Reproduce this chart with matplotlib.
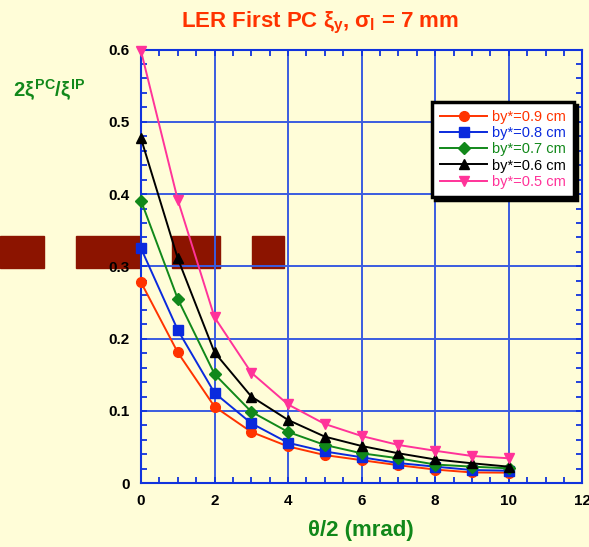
"""LER first PC beam-beam ratio vs half crossing angle"""

import matplotlib
matplotlib.use("Agg")
import matplotlib.pyplot as plt
from matplotlib.patches import Rectangle
from matplotlib.ticker import MultipleLocator

plt.rcParams['font.family'] = ['Liberation Sans', 'DejaVu Sans']
plt.rcParams['mathtext.fontset'] = 'custom'
plt.rcParams['mathtext.rm'] = 'Liberation Sans:bold'
plt.rcParams['mathtext.it'] = 'Liberation Sans:bold'
plt.rcParams['mathtext.bf'] = 'Liberation Sans:bold'

# half crossing angle (mrad)
theta_half = [0, 1, 2, 3, 4, 5, 6, 7, 8, 9, 10]

# 2 xi_PC / xi_IP for each beta_y*
by_09 = [0.278, 0.181, 0.106, 0.071, 0.051, 0.039, 0.032, 0.025, 0.019, 0.015, 0.0147]
by_08 = [0.325, 0.212, 0.125, 0.083, 0.056, 0.044, 0.036, 0.028, 0.023, 0.0184, 0.0174]
by_07 = [0.391, 0.255, 0.151, 0.099, 0.071, 0.053, 0.0415, 0.0346, 0.026, 0.023, 0.0207]
by_06 = [0.477, 0.311, 0.181, 0.120, 0.0876, 0.0645, 0.0516, 0.0415, 0.033, 0.0277, 0.023]
by_05 = [0.598, 0.392, 0.2296, 0.153, 0.109, 0.082, 0.0654, 0.053, 0.045, 0.0378, 0.0346]

series = [
    (by_09, 'by*=0.9 cm', '#FF3300', 'o', 7),
    (by_08, 'by*=0.8 cm', '#0A2ADD', 's', 7),
    (by_07, 'by*=0.7 cm', '#11881A', 'D', 6),
    (by_06, 'by*=0.6 cm', 'black', '^', 7.5),
    (by_05, 'by*=0.5 cm', '#FF3399', 'v', 7.5),
]

bg = '#FFFDD8'
blue = '#1133DD'

fig = plt.figure(figsize=(5.89, 5.47), dpi=100, facecolor=bg)
W, H = 589, 547
ax = fig.add_axes([141 / W, 1 - 483.3 / H, (582.3 - 141) / W, (483.3 - 49.5) / H])
ax.set_facecolor(bg)

for vals, label, col, mk, ms in series:
    ax.plot(theta_half, vals, color=col, marker=mk, markersize=ms, lw=1.4,
            label=label, clip_on=False, zorder=3)

ax.set_xlim(0, 12)
ax.set_ylim(0, 0.6)
ax.xaxis.set_major_locator(MultipleLocator(2))
ax.xaxis.set_minor_locator(MultipleLocator(0.5))
ax.yaxis.set_minor_locator(MultipleLocator(0.02))
ax.set_yticks([0, 0.1, 0.2, 0.3, 0.4, 0.5, 0.6])
ax.set_yticklabels(['0', '0.1', '0.2', '0.3', '0.4', '0.5', '0.6'])
ax.grid(True, which='major', color='#3A5CE0', lw=1.4)
ax.set_axisbelow(True)

for s in ax.spines.values():
    s.set_color(blue)
    s.set_linewidth(1.5)
    s.set_zorder(2.6)
ax.tick_params(which='both', direction='in', top=True, right=True, color=blue, width=1.3)
ax.tick_params(which='major', length=4, labelsize=11, pad=8)
ax.tick_params(which='minor', length=4)
for lb in ax.get_xticklabels() + ax.get_yticklabels():
    lb.set_fontweight('bold')

# dark red blocks lying across the plot (under grid and tick labels)
for x0, x1 in [(0, 44), (76, 140), (172, 220), (252, 284)]:
    ax.add_patch(Rectangle((x0 / W, 1 - 268 / H), (x1 - x0) / W, 32 / H,
                           transform=fig.transFigure, color='#8C1400',
                           clip_on=False, zorder=0.2))

fig.text(320 / W, 1 - 27 / H, r'LER First PC $\xi_y$, $\sigma_l$ = 7 mm',
         color='#FF3300', fontsize=16, fontweight='bold', ha='center', va='baseline')
fig.text(13 / W, 1 - 97 / H, r'$2\xi^{PC}/\xi^{IP}$', color='#11881A',
         fontsize=14.5, ha='left', va='baseline')
fig.text(361 / W, 1 - 536 / H, 'θ/2 (mrad)', color='#11881A',
         fontsize=16, fontweight='bold', ha='center', va='baseline')

leg = ax.legend(loc='upper right', bbox_to_anchor=(574 / W, 1 - 102 / H),
                bbox_transform=fig.transFigure, fontsize=10.5, labelcolor='linecolor',
                frameon=True, fancybox=False, edgecolor='black', framealpha=1,
                shadow={'color': 'black', 'alpha': 1}, handlelength=3.2,
                handletextpad=0.35, borderpad=0.55, labelspacing=0.15, borderaxespad=0)
leg.get_frame().set_linewidth(2.5)
leg.set_zorder(5)

fig.savefig('out.png', dpi=100, facecolor=bg)
